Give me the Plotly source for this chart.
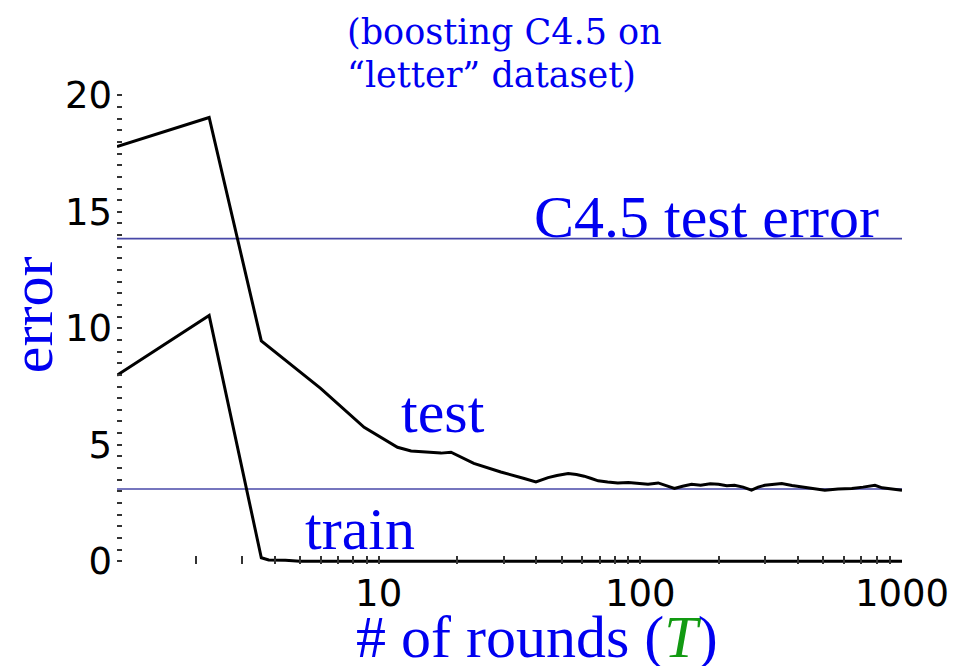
import plotly.graph_objects as go

# Boosting C4.5 on the "letter" dataset: train / test error vs. number of rounds
test_rounds = [1, 2.25, 3.56, 6.0, 8.8, 11.8, 13.3, 15.5, 17.3, 18.9, 23.1, 29.3,
               32.9, 36, 39.9, 44.4, 48, 53, 57, 61, 65, 69, 75, 82, 90, 98, 107,
               117, 126, 135, 145, 157, 170, 185, 199, 214, 229, 247, 266, 282,
               299, 320, 347, 380, 414, 460, 507, 570, 643, 710, 788, 840, 891,
               940, 1000]
test_error = [17.8, 19.05, 9.46, 7.42, 5.75, 4.89, 4.73, 4.66, 4.64, 4.68, 4.2, 3.83,
              3.69, 3.55, 3.40, 3.59, 3.68, 3.76, 3.72, 3.65, 3.55, 3.45, 3.40, 3.36,
              3.38, 3.33, 3.30, 3.36, 3.25, 3.12, 3.22, 3.30, 3.26, 3.32, 3.30, 3.24,
              3.26, 3.18, 3.05, 3.18, 3.26, 3.30, 3.33, 3.25, 3.19, 3.12, 3.05, 3.10,
              3.12, 3.18, 3.26, 3.15, 3.12, 3.10, 3.05]

train_rounds = [1, 2.25, 3.56, 3.8, 4.4, 5, 10, 100, 1000]
train_error = [7.98, 10.55, 0.15, 0.05, 0.04, 0.0, 0.0, 0.0, 0.0]

ref_rounds = [1, 1000]
c45_test_error = 13.85
final_test_error = 3.1

x_tick_vals = [10, 100, 1000]
x_tick_text = ["10", "100", "1000"]
x_minor_vals = [2, 3, 4, 5, 6, 7, 8, 9, 20, 30, 40, 50, 60, 70, 80, 90,
                200, 300, 400, 500, 600, 700, 800, 900]
y_tick_vals = [0, 5, 10, 15, 20]
y_minor_vals = [v / 2 for v in range(0, 41)]

BLUE = "#0000f0"
REF_LINE = "#4848a8"
SERIF = "Liberation Serif, Times New Roman, serif"

fig = go.Figure()

for level in (c45_test_error, final_test_error):
    fig.add_trace(go.Scatter(
        x=ref_rounds, y=[level, level], mode="lines",
        line=dict(color=REF_LINE, width=1.6), hoverinfo="skip", showlegend=False))

fig.add_trace(go.Scatter(
    x=test_rounds, y=test_error, mode="lines",
    line=dict(color="black", width=3), showlegend=False))
fig.add_trace(go.Scatter(
    x=train_rounds, y=train_error, mode="lines",
    line=dict(color="black", width=3), showlegend=False))

label_font = dict(family=SERIF, size=60, color=BLUE)
title_font = dict(family="DejaVu Serif, serif", size=35, color=BLUE)


def label(text, x, y, ref="data", **kw):
    refs = dict(xref="x", yref="y") if ref == "data" else dict(xref="paper", yref="paper")
    base = dict(x=x, y=y, text=text, showarrow=False, font=label_font,
                xanchor="center", yanchor="middle")
    base.update(refs)
    base.update(kw)
    return base


annotations = [
    label("C4.5 test error", 2.2525, 14.78),
    label("test", 1.245, 6.4),
    label("train", 0.93, 1.39),
    label("error", -0.108, 0.521, ref="paper", textangle=-90),
    label('# of rounds (<i><span style="color:#129a12">T</span></i>)',
          0.535, -0.153, ref="paper"),
    label("(boosting C4.5 on", 0.2904, 1.112, ref="paper",
          xanchor="left", font=title_font),
    label("\u201cletter\u201d dataset)", 0.2904, 1.022, ref="paper",
          xanchor="left", font=title_font),
]

tick_font = dict(family="DejaVu Sans, sans-serif", size=37, color="black")

fig.update_layout(
    width=954, height=666,
    margin=dict(l=117, r=52, t=86, b=102, autoexpand=False),
    paper_bgcolor="white", plot_bgcolor="white",
    showlegend=False,
    annotations=annotations,
    xaxis=dict(
        type="log", range=[0, 3], automargin=False,
        tickmode="array", tickvals=x_tick_vals, ticktext=x_tick_text,
        ticks="inside", ticklen=8, tickwidth=1.5, tickcolor="#333",
        minor=dict(tickmode="array", tickvals=x_minor_vals, ticks="inside",
                   ticklen=8, tickwidth=1.5, tickcolor="#333"),
        showline=False, showgrid=False, zeroline=False,
        tickfont=tick_font, ticklabelstandoff=4,
    ),
    yaxis=dict(
        range=[-0.12, 20.4], automargin=False,
        tickmode="array", tickvals=y_tick_vals,
        ticks="inside", ticklen=5, tickwidth=1.5, tickcolor="#333",
        minor=dict(tickmode="array", tickvals=y_minor_vals, ticks="inside",
                   ticklen=5, tickwidth=1.5, tickcolor="#333"),
        showline=False, showgrid=False, zeroline=False,
        tickfont=tick_font, ticklabelstandoff=4,
    ),
)

fig.write_html("out.html")
